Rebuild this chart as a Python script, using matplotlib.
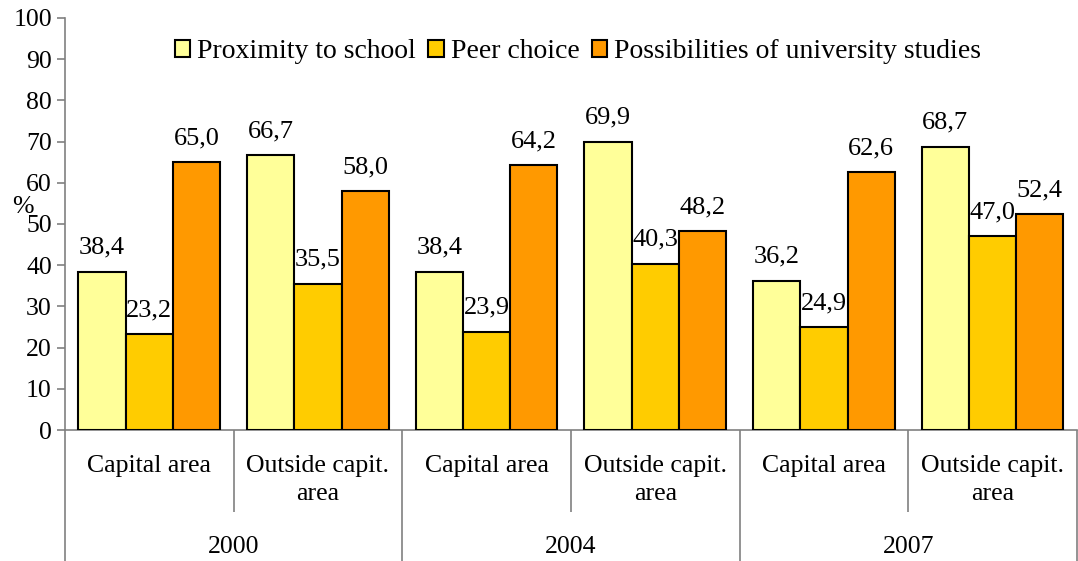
import matplotlib
matplotlib.use('Agg')
import matplotlib.pyplot as plt
import matplotlib.transforms as mtransforms
import numpy as np

plt.rcParams['font.family'] = ['Liberation Serif', 'DejaVu Serif']

areas = ['Capital area', 'Outside capit.\narea'] * 3
years = ['2000', '2004', '2007']
series_names = ['Proximity to school', 'Peer choice', 'Possibilities of university studies']
proximity = [38.4, 66.7, 38.4, 69.9, 36.2, 68.7]
peer = [23.2, 35.5, 23.9, 40.3, 24.9, 47.0]
university = [65.0, 58.0, 64.2, 48.2, 62.6, 52.4]
colors = ['#FFFF99', '#FFCC00', '#FF9900']


def main():
    fig = plt.figure(figsize=(10.78, 5.61), dpi=100)
    ax = fig.add_axes([0.0603, 0.2335, 0.9387, 0.7345])
    x = np.arange(len(areas))
    w = 0.28
    for i, vals in enumerate([proximity, peer, university]):
        bars = ax.bar(x + (i - 1) * w, vals, w, color=colors[i], edgecolor='black',
                      linewidth=1.5, label=series_names[i], zorder=3)
        for b, v in zip(bars, vals):
            ax.annotate(('%.1f' % v).replace('.', ','),
                        (b.get_x() + b.get_width() / 2, v), xytext=(0, 13),
                        textcoords='offset points', ha='center', va='baseline',
                        fontsize=19)

    ax.set_xlim(-0.5, 5.5)
    ax.set_ylim(0, 100)
    ax.set_yticks(range(0, 101, 10))
    ax.tick_params(axis='y', labelsize=18.5, color='#808080', length=6, width=1.2)
    for s in ['top', 'right']:
        ax.spines[s].set_visible(False)
    ax.spines['left'].set_color('#808080')
    ax.spines['bottom'].set_color('#808080')
    ax.spines['left'].set_linewidth(1.2)
    ax.spines['bottom'].set_linewidth(1.2)

    # hierarchical x axis: short ticks between areas, long ticks between years
    ax.set_xticks([-0.5, 1.5, 3.5, 5.5])
    ax.set_xticks([0.5, 2.5, 4.5], minor=True)
    ax.set_xticklabels([])
    ax.tick_params(axis='x', which='major', length=94, color='#808080', width=1.2)
    ax.tick_params(axis='x', which='minor', length=59, color='#808080', width=1.2)

    trans = mtransforms.blended_transform_factory(ax.transData, fig.transFigure)
    for xi, lab in zip(x, areas):
        ax.text(xi, 1 - 455 / 561, lab, transform=trans, ha='center', va='top',
                fontsize=18.5, linespacing=1.38)
    for j, yr in enumerate(years):
        ax.text(2 * j + 0.5, 1 - 547 / 561, yr, transform=trans, ha='center',
                va='center', fontsize=18.5)

    fig.text(23 / 1078, 1 - 207 / 561, '%', ha='center', va='center', fontsize=18.5)

    ax.legend(loc='upper center', bbox_to_anchor=(0.507, 0.975), ncol=3, frameon=False,
              fontsize=20, handlelength=0.55, handleheight=0.55, handletextpad=0.25,
              columnspacing=0.45, borderaxespad=0)

    fig.savefig('out.png', dpi=100)


if __name__ == '__main__':
    main()
